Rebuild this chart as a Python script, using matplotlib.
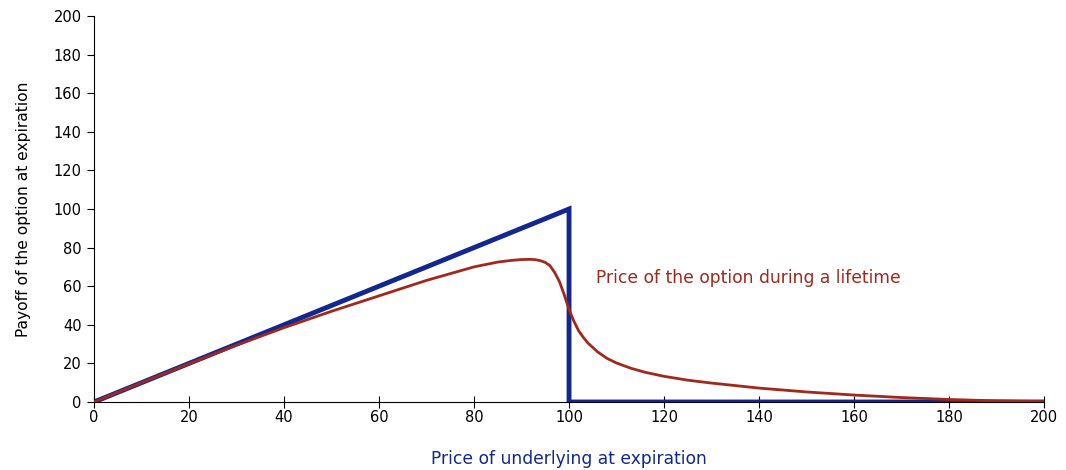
import matplotlib
matplotlib.use("Agg")
import matplotlib.pyplot as plt

# payoff at expiration
payoff_x = [0, 100, 100, 200]
payoff_y = [0, 100, 0, 0]

# option price during lifetime
price_x = [0, 10, 20, 30, 40, 50, 60, 70, 75, 80, 85, 88, 90, 92, 93, 94, 95, 96, 97,
           98, 99, 100, 101, 102, 103, 104, 106, 108, 110, 113, 116, 120, 125, 130,
           135, 140, 150, 160, 170, 180, 190, 200]
price_y = [0, 10, 19.8, 29.4, 38.5, 47, 55, 63, 66.5, 70, 72.5, 73.4, 73.8, 73.9, 73.7,
           73.2, 72.3, 70.6, 67, 62.3, 55.5, 48, 42, 37, 33.5, 30.5, 26, 22.6, 20.2,
           17.5, 15.4, 13.3, 11.3, 9.8, 8.5, 7.2, 5.2, 3.6, 2.3, 1.3, 0.6, 0.2]

BLUE = "#13288f"
RED = "#a1281c"

fig = plt.figure(figsize=(10.66, 4.7), dpi=100)
ax = fig.add_axes([0.0882, 0.1447, 0.8912, 0.8213])

ax.plot(price_x, price_y, color=RED, lw=2, zorder=3, solid_capstyle="round",
        solid_joinstyle="round")
ax.plot(payoff_x, payoff_y, color=BLUE, lw=3.5, zorder=2, solid_joinstyle="miter")

ax.set_xlim(0, 200)
ax.set_ylim(0, 200)
ax.set_xticks(range(0, 201, 20))
ax.set_yticks(range(0, 201, 20))
ax.spines[["top", "right"]].set_visible(False)
ax.tick_params(axis="y", direction="out", length=5, labelsize=10.5, pad=4)
ax.tick_params(axis="x", direction="inout", length=8, labelsize=10.5, pad=2)

ax.set_xlabel("Price of underlying at expiration", color=BLUE, fontsize=12.3, labelpad=18)
ax.set_ylabel("Payoff of the option at expiration", fontsize=11.2, labelpad=16)

ax.text(105.7, 64, "Price of the option during a lifetime", color=RED, fontsize=12.3,
        va="center", ha="left")

fig.savefig("out.png", dpi=100)
